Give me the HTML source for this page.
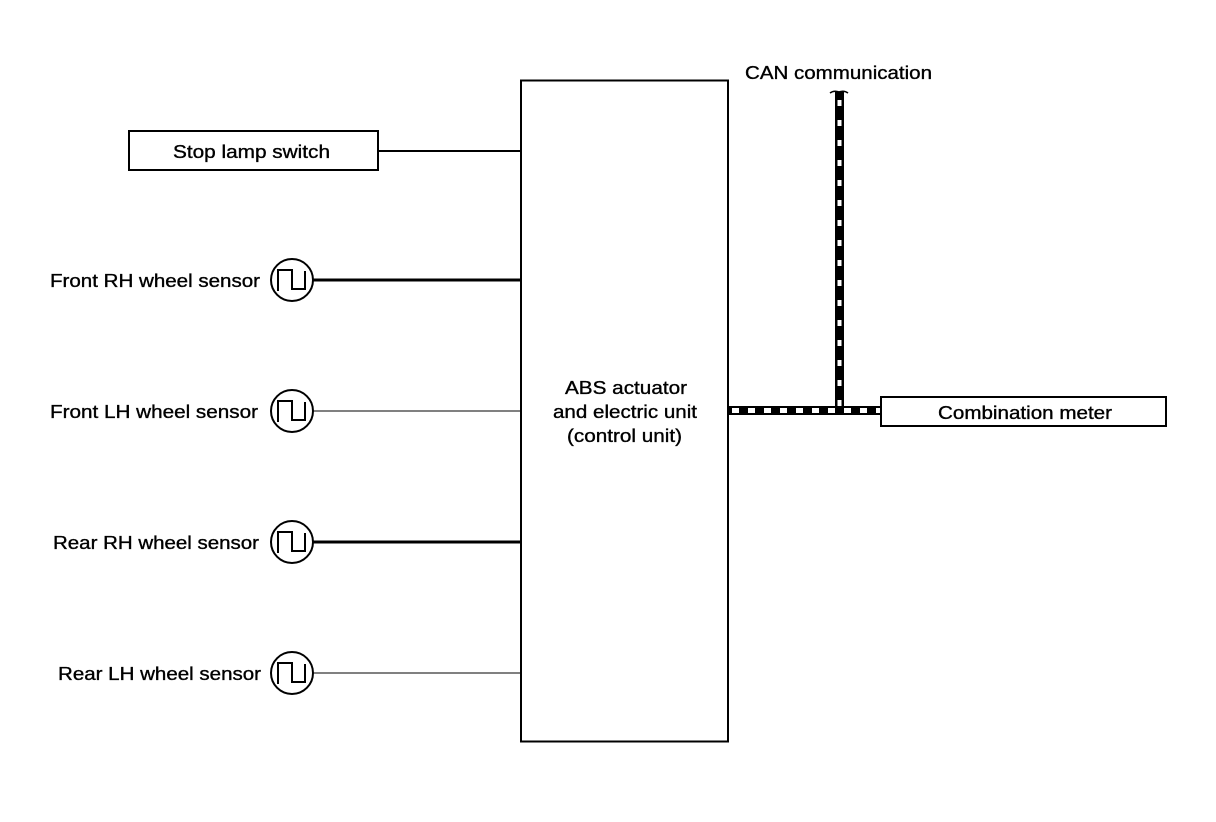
<!DOCTYPE html>
<html><head><meta charset="utf-8"><style>
html,body{margin:0;padding:0;background:#fff;}
svg{display:block;}
text{font-family:"Liberation Sans",sans-serif;font-size:18px;fill:#000;stroke:#000;stroke-width:0.35;}
</style></head><body>
<svg width="1216" height="822" viewBox="0 0 1216 822" xmlns="http://www.w3.org/2000/svg">
<rect x="0" y="0" width="1216" height="822" fill="#fff" stroke="none"/>
<rect x="521" y="80.5" width="207" height="661" fill="none" stroke="#000" stroke-width="2"/>
<text x="565" y="394" textLength="122" lengthAdjust="spacingAndGlyphs">ABS actuator</text>
<text x="553" y="418" textLength="144" lengthAdjust="spacingAndGlyphs">and electric unit</text>
<text x="567" y="442" textLength="115" lengthAdjust="spacingAndGlyphs">(control unit)</text>
<rect x="129" y="131" width="249" height="39" fill="none" stroke="#000" stroke-width="2"/>
<text x="173" y="158" textLength="157" lengthAdjust="spacingAndGlyphs">Stop lamp switch</text>
<line x1="378" y1="151" x2="521" y2="151" stroke="#000" stroke-width="2"/>
<text x="50" y="287" textLength="210" lengthAdjust="spacingAndGlyphs">Front RH wheel sensor</text>
<circle cx="292" cy="280" r="21" fill="none" stroke="#000" stroke-width="2"/>
<polyline points="278,291 278,270 292,270 292,289 305,289 305,271" fill="none" stroke="#000" stroke-width="2"/>
<line x1="313" y1="280" x2="521" y2="280" stroke="#000" stroke-width="3"/>
<text x="50" y="418" textLength="208" lengthAdjust="spacingAndGlyphs">Front LH wheel sensor</text>
<circle cx="292" cy="411" r="21" fill="none" stroke="#000" stroke-width="2"/>
<polyline points="278,422 278,401 292,401 292,420 305,420 305,402" fill="none" stroke="#000" stroke-width="2"/>
<line x1="313" y1="411" x2="521" y2="411" stroke="#000" stroke-width="1"/>
<text x="53" y="549" textLength="206" lengthAdjust="spacingAndGlyphs">Rear RH wheel sensor</text>
<circle cx="292" cy="542" r="21" fill="none" stroke="#000" stroke-width="2"/>
<polyline points="278,553 278,532 292,532 292,551 305,551 305,533" fill="none" stroke="#000" stroke-width="2"/>
<line x1="313" y1="542" x2="521" y2="542" stroke="#000" stroke-width="3"/>
<text x="58" y="680" textLength="203" lengthAdjust="spacingAndGlyphs">Rear LH wheel sensor</text>
<circle cx="292" cy="673" r="21" fill="none" stroke="#000" stroke-width="2"/>
<polyline points="278,684 278,663 292,663 292,682 305,682 305,664" fill="none" stroke="#000" stroke-width="2"/>
<line x1="313" y1="673" x2="521" y2="673" stroke="#000" stroke-width="1"/>
<text x="745" y="79" textLength="187" lengthAdjust="spacingAndGlyphs">CAN communication</text>
<path d="M830,93 Q834,90 839,92 Q844,90 848,93" fill="none" stroke="#000" stroke-width="1.5"/>
<rect x="835" y="92" width="9" height="318" fill="#000"/>
<line x1="839.5" y1="100" x2="839.5" y2="410" stroke="#fff" stroke-width="4" stroke-dasharray="6 14"/>
<rect x="729" y="406" width="152" height="9" fill="#000"/>
<line x1="732" y1="410.5" x2="880" y2="410.5" stroke="#fff" stroke-width="5" stroke-dasharray="7 9"/>
<rect x="881" y="397" width="285" height="29" fill="none" stroke="#000" stroke-width="2"/>
<text x="938" y="419" textLength="174" lengthAdjust="spacingAndGlyphs">Combination meter</text>
</svg>
</body></html>
